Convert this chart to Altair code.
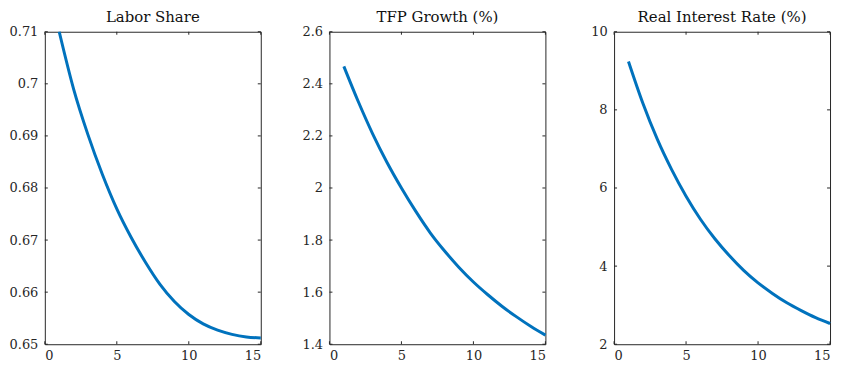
import altair as alt
import pandas as pd

# ---- data ----
x_vals = list(range(1, 16))
labor_share = [0.7100, 0.6990, 0.6902, 0.6826, 0.6760, 0.6705, 0.6657, 0.6615,
               0.6582, 0.6557, 0.6539, 0.6527, 0.6519, 0.6514, 0.6512]
tfp_growth = [2.467, 2.332, 2.208, 2.098, 2.000, 1.910, 1.828, 1.758,
              1.695, 1.639, 1.590, 1.545, 1.505, 1.468, 1.435]
real_rate = [9.24, 8.17, 7.25, 6.47, 5.79, 5.20, 4.70, 4.27,
             3.89, 3.57, 3.30, 3.06, 2.86, 2.68, 2.53]

titles = ["Labor Share", "TFP Growth (%)", "Real Interest Rate (%)"]
y_domains = [[0.65, 0.71], [1.4, 2.6], [2, 10]]
y_ticks = [[0.65, 0.66, 0.67, 0.68, 0.69, 0.70, 0.71],
           [1.4, 1.6, 1.8, 2.0, 2.2, 2.4, 2.6],
           [2, 4, 6, 8, 10]]
y_formats = [".2~f", ".1~f", "d"]
x_ticks = [0, 5, 10, 15]

FONT = "DejaVu Serif"
TXT = "#262626"
LINE = "#0072BD"
W, H = 217, 314
TL = 3


def panel(title, values, ydom, yt, fmt):
    df = pd.DataFrame({"x": x_vals, "v": values})
    xs = alt.Scale(domain=[0, 15], nice=False, zero=False)
    ys = alt.Scale(domain=ydom, nice=False, zero=False)
    xa = alt.Axis(values=x_ticks, format="d", ticks=False, domain=False, grid=False,
                  labelFont=FONT, labelFontSize=13, labelColor=TXT, labelPadding=5)
    ya = alt.Axis(values=yt, format=fmt, ticks=False, domain=False, grid=False,
                  labelFont=FONT, labelFontSize=13, labelColor=TXT, labelPadding=7)
    line = alt.Chart(df).mark_line(color=LINE, strokeWidth=3, interpolate="monotone").encode(
        x=alt.X("x:Q", scale=xs, title=None, axis=xa),
        y=alt.Y("v:Q", scale=ys, title=None, axis=ya),
    )
    ydf = pd.DataFrame({"v": yt})
    xdf = pd.DataFrame({"x": x_ticks})
    yl = alt.Chart(ydf).mark_rule(color=TXT, strokeWidth=1).encode(
        y=alt.Y("v:Q", scale=ys, title=None, axis=ya), x=alt.value(0), x2=alt.value(TL))
    yr = alt.Chart(ydf).mark_rule(color=TXT, strokeWidth=1).encode(
        y=alt.Y("v:Q", scale=ys, title=None, axis=ya), x=alt.value(W - TL), x2=alt.value(W))
    xb = alt.Chart(xdf).mark_rule(color=TXT, strokeWidth=1).encode(
        x=alt.X("x:Q", scale=xs, title=None, axis=xa), y=alt.value(H), y2=alt.value(H - TL))
    xt = alt.Chart(xdf).mark_rule(color=TXT, strokeWidth=1).encode(
        x=alt.X("x:Q", scale=xs, title=None, axis=xa), y=alt.value(0), y2=alt.value(TL))
    return alt.layer(line, yl, yr, xb, xt).properties(
        width=W, height=H,
        title=alt.TitleParams(title, font=FONT, fontSize=15, fontWeight="normal",
                              color="#111111", offset=1, anchor="middle"),
    )


panels = [panel(titles[i], v, y_domains[i], y_ticks[i], y_formats[i])
          for i, v in enumerate([labor_share, tfp_growth, real_rate])]

chart = alt.hconcat(*panels, spacing=69, bounds="flush").properties(
    padding={"left": 0, "top": 0, "right": 0, "bottom": 0}
).configure_view(stroke=TXT, strokeWidth=1)

chart.save("out.html", embed_options={"renderer": "svg", "actions": False})
